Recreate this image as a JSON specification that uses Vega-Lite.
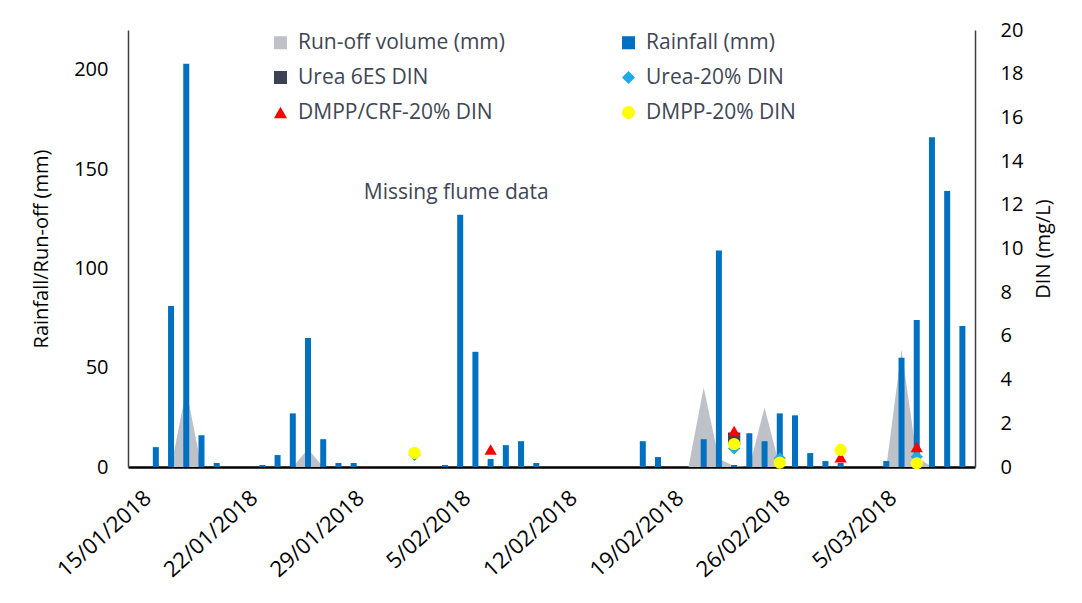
{
  "$schema": "https://vega.github.io/schema/vega-lite/v6.json",
  "width": 847,
  "height": 437,
  "autosize": {"type": "none"},
  "padding": {"left": 128, "top": 30, "right": 107, "bottom": 136},
  "background": "white",
  "config": {
    "view": {"stroke": null},
    "font": "Open Sans",
    "axis": {"labelFont": "Open Sans", "titleFont": "Open Sans", "grid": false, "ticks": false}
  },
  "datasets": {
    "rain": [
      {"date": "2018-01-16", "rain": 10}, {"date": "2018-01-17", "rain": 81}, {"date": "2018-01-18", "rain": 203},
      {"date": "2018-01-19", "rain": 16}, {"date": "2018-01-20", "rain": 2}, {"date": "2018-01-23", "rain": 1},
      {"date": "2018-01-24", "rain": 6}, {"date": "2018-01-25", "rain": 27}, {"date": "2018-01-26", "rain": 65},
      {"date": "2018-01-27", "rain": 14}, {"date": "2018-01-28", "rain": 2}, {"date": "2018-01-29", "rain": 2},
      {"date": "2018-02-04", "rain": 1}, {"date": "2018-02-05", "rain": 127}, {"date": "2018-02-06", "rain": 58},
      {"date": "2018-02-07", "rain": 4}, {"date": "2018-02-08", "rain": 11}, {"date": "2018-02-09", "rain": 13},
      {"date": "2018-02-10", "rain": 2}, {"date": "2018-02-17", "rain": 13}, {"date": "2018-02-18", "rain": 5},
      {"date": "2018-02-21", "rain": 14}, {"date": "2018-02-22", "rain": 109}, {"date": "2018-02-23", "rain": 1},
      {"date": "2018-02-24", "rain": 17}, {"date": "2018-02-25", "rain": 13}, {"date": "2018-02-26", "rain": 27},
      {"date": "2018-02-27", "rain": 26}, {"date": "2018-02-28", "rain": 7}, {"date": "2018-03-01", "rain": 3},
      {"date": "2018-03-02", "rain": 2}, {"date": "2018-03-05", "rain": 3}, {"date": "2018-03-06", "rain": 55},
      {"date": "2018-03-07", "rain": 74}, {"date": "2018-03-08", "rain": 166}, {"date": "2018-03-09", "rain": 139},
      {"date": "2018-03-10", "rain": 71}
    ],
    "runoff": [
      {"date": "2018-01-15", "runoff": 0}, {"date": "2018-01-17", "runoff": 0}, {"date": "2018-01-18", "runoff": 39},
      {"date": "2018-01-19", "runoff": 0}, {"date": "2018-01-25", "runoff": 0}, {"date": "2018-01-26", "runoff": 9},
      {"date": "2018-01-27", "runoff": 0}, {"date": "2018-02-20", "runoff": 0}, {"date": "2018-02-21", "runoff": 40},
      {"date": "2018-02-22", "runoff": 4}, {"date": "2018-02-23", "runoff": 0.5}, {"date": "2018-02-24", "runoff": 0},
      {"date": "2018-02-25", "runoff": 30}, {"date": "2018-02-26", "runoff": 0}, {"date": "2018-03-05", "runoff": 0},
      {"date": "2018-03-06", "runoff": 59}, {"date": "2018-03-07", "runoff": 5}, {"date": "2018-03-08", "runoff": 0}
    ],
    "din": [
      {"date": "2018-02-23", "series": "Urea 6ES DIN", "din": 1.3},
      {"date": "2018-02-02", "series": "Urea-20% DIN", "din": 0.55},
      {"date": "2018-02-23", "series": "Urea-20% DIN", "din": 0.85},
      {"date": "2018-02-26", "series": "Urea-20% DIN", "din": 0.4},
      {"date": "2018-03-07", "series": "Urea-20% DIN", "din": 0.47},
      {"date": "2018-02-07", "series": "DMPP/CRF-20% DIN", "din": 0.8},
      {"date": "2018-02-23", "series": "DMPP/CRF-20% DIN", "din": 1.65},
      {"date": "2018-03-02", "series": "DMPP/CRF-20% DIN", "din": 0.45},
      {"date": "2018-03-07", "series": "DMPP/CRF-20% DIN", "din": 0.92},
      {"date": "2018-02-02", "series": "DMPP-20% DIN", "din": 0.65},
      {"date": "2018-02-23", "series": "DMPP-20% DIN", "din": 1.05},
      {"date": "2018-02-26", "series": "DMPP-20% DIN", "din": 0.2},
      {"date": "2018-03-02", "series": "DMPP-20% DIN", "din": 0.78},
      {"date": "2018-03-07", "series": "DMPP-20% DIN", "din": 0.17}
    ],
    "note": [
      {"date": "2018-02-05", "y": 138, "label": "Missing flume data"}
    ]
  },
  "layer": [
    {
      "layer": [
        {
          "data": {"name": "runoff", "format": {"parse": {"date": "date:'%Y-%m-%d'"}}},
          "mark": {"type": "area", "color": "#BEC2C8", "opacity": 1},
          "encoding": {
            "x": {"field": "date", "type": "temporal",
              "scale": {"domain": [{"year": 2018, "month": 1, "date": 14, "hours": 12}, {"year": 2018, "month": 3, "date": 10, "hours": 12}]},
              "axis": {"title": null, "format": "%-d/%m/%Y", "labelAngle": -42, "labelFontSize": 22, "labelColor": "#000000",
                "labelPadding": 20, "domainColor": "#000000", "domainWidth": 2.5,
                "values": [{"year": 2018, "month": 1, "date": 15}, {"year": 2018, "month": 1, "date": 22}, {"year": 2018, "month": 1, "date": 29}, {"year": 2018, "month": 2, "date": 5}, {"year": 2018, "month": 2, "date": 12}, {"year": 2018, "month": 2, "date": 19}, {"year": 2018, "month": 2, "date": 26}, {"year": 2018, "month": 3, "date": 5}]}},
            "y": {"field": "runoff", "type": "quantitative", "scale": {"domain": [0, 220]},
              "axis": {"title": "Rainfall/Run-off (mm)", "values": [0, 50, 100, 150, 200], "labelFontSize": 20, "labelColor": "#000000",
                "labelPadding": 20, "titleFontSize": 20, "titleFontWeight": "normal", "titleColor": "#000000", "titlePadding": 22,
                "domainColor": "#404040", "domainWidth": 1.5}}
          }
        },
        {
          "data": {"name": "rain", "format": {"parse": {"date": "date:'%Y-%m-%d'"}}},
          "mark": {"type": "bar", "color": "#0070C0", "size": 6},
          "encoding": {
            "x": {"field": "date", "type": "temporal"},
            "y": {"field": "rain", "type": "quantitative"}
          }
        },
        {
          "data": {"name": "note", "format": {"parse": {"date": "date:'%Y-%m-%d'"}}},
          "mark": {"type": "text", "font": "Open Sans", "fontSize": 21, "color": "#404654", "align": "center", "baseline": "middle", "dx": -4},
          "encoding": {
            "x": {"field": "date", "type": "temporal"},
            "y": {"field": "y", "type": "quantitative"},
            "text": {"field": "label"}
          }
        }
      ]
    },
    {
      "data": {"name": "din", "format": {"parse": {"date": "date:'%Y-%m-%d'"}}},
      "mark": {"type": "point", "filled": true, "opacity": 1, "size": 150},
      "encoding": {
        "x": {"field": "date", "type": "temporal"},
        "y": {"field": "din", "type": "quantitative", "scale": {"domain": [0, 20]},
          "axis": {"orient": "right", "title": "DIN (mg/L)", "titleAngle": 270, "values": [0, 2, 4, 6, 8, 10, 12, 14, 16, 18, 20],
            "labelFontSize": 20, "labelColor": "#000000", "labelPadding": 25, "titleFontSize": 20, "titleFontWeight": "normal",
            "titleColor": "#000000", "titlePadding": 31, "domainColor": "#404040", "domainWidth": 1.5}},
        "color": {"field": "series", "type": "nominal",
          "scale": {"domain": ["Run-off volume (mm)", "Urea 6ES DIN", "DMPP/CRF-20% DIN", "Rainfall (mm)", "Urea-20% DIN", "DMPP-20% DIN"],
            "range": ["#BEC2C8", "#3C4252", "#FF0000", "#0070C0", "#1EAAE7", "#FFFF00"]},
          "legend": {"title": null, "orient": "none", "legendX": 142, "legendY": 2, "columns": 2, "columnPadding": 113, "rowPadding": 13,
            "labelFont": "Open Sans", "labelFontSize": 21, "labelColor": "#404654", "symbolSize": 170, "labelOffset": 7,
            "symbolStrokeWidth": 0, "padding": 0, "labelLimit": 400}},
        "shape": {"field": "series", "type": "nominal",
          "scale": {"domain": ["Run-off volume (mm)", "Urea 6ES DIN", "DMPP/CRF-20% DIN", "Rainfall (mm)", "Urea-20% DIN", "DMPP-20% DIN"],
            "range": ["square", "square", "triangle-up", "square", "diamond", "circle"]},
          "legend": {"title": null, "orient": "none", "legendX": 142, "legendY": 2, "columns": 2, "columnPadding": 113, "rowPadding": 13,
            "labelFont": "Open Sans", "labelFontSize": 21, "labelColor": "#404654", "symbolSize": 170, "labelOffset": 7,
            "symbolStrokeWidth": 0, "padding": 0, "labelLimit": 400}}
      }
    }
  ],
  "resolve": {"scale": {"y": "independent"}}
}
